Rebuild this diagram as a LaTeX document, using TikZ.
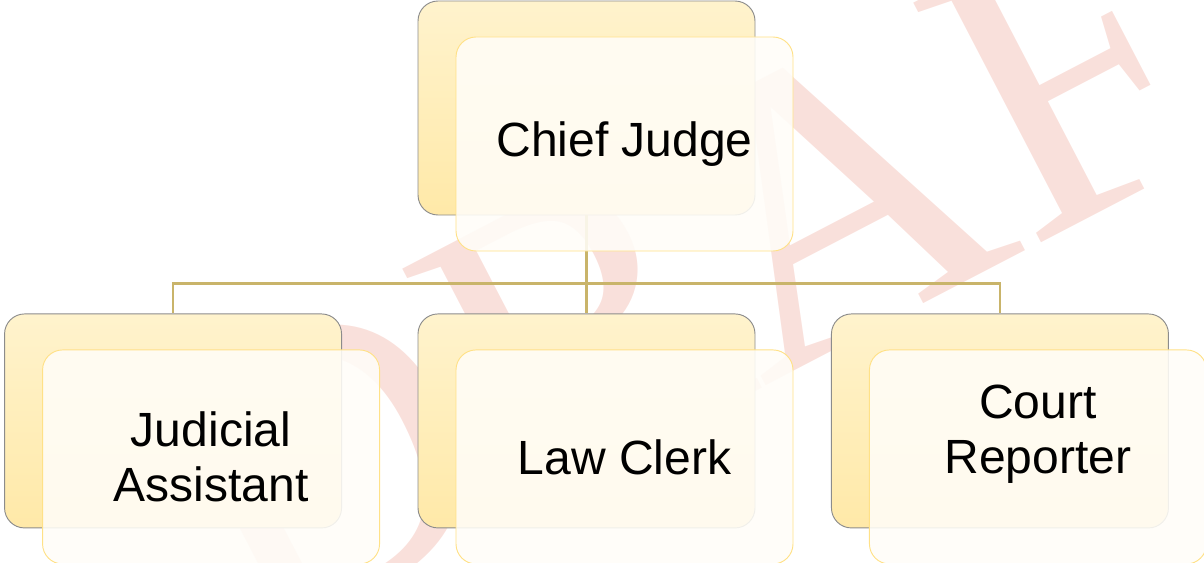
\documentclass[tikz,border=0pt]{standalone}
\usepackage{fontspec}
\setmainfont{Liberation Sans}
\newfontfamily\markfont{Liberation Serif}
\usetikzlibrary{positioning,calc}
\definecolor{backtop}{HTML}{FFF3CD}
\definecolor{backbottom}{HTML}{FFE9A8}
\definecolor{frontfill}{HTML}{FFFDF8}
\definecolor{frontline}{HTML}{FFE187}
\definecolor{linkline}{HTML}{C9B46A}
\definecolor{markpink}{RGB}{249,224,219}

\begin{document}
\begin{tikzpicture}[back/.style={rectangle, draw=gray!90, line width=0.8pt, rounded corners=0.6cm, minimum width=10.11cm, minimum height=6.42cm, top color=backtop, bottom color=backbottom, inner sep=0pt}, front/.style={rectangle, draw=frontline, line width=0.8pt, rounded corners=0.6cm, minimum width=10.11cm, minimum height=6.42cm, fill=frontfill, fill opacity=0.88, text opacity=1, align=center, font=\fontsize{41}{47}\selectfont, inner sep=0pt}, link/.style={draw=linkline, line width=2.3pt}]

\useasboundingbox (0,0) rectangle (36.12,-16.86);

% WATERMARK

\node [text=markpink, font=\markfont\fontsize{354}{354}\selectfont, rotate=27.5, anchor=base, inner sep=0pt] (draftmark) at (25.65,-10.2) {DRAFT};

% BACK BOXES

\node [back] (chiefjudgeback) at (17.595,-3.24) {};

\node [back, below=2.94cm of chiefjudgeback] (lawclerkback) {};

\node [back, left=2.265cm of lawclerkback] (judicialassistantback) {};

\node [back, right=2.265cm of lawclerkback] (courtreporterback) {};

% LINKS

\coordinate (branch) at ($(chiefjudgeback.south)+(0,-2.04)$);

\draw [link] (chiefjudgeback.south) -- (branch) -- (lawclerkback.north);
\draw [link] (judicialassistantback.north) |- (branch) -| (courtreporterback.north);

% FRONT BOXES

\node [front] (chiefjudge) at ($(chiefjudgeback)+(1.14,-1.08)$) {Chief Judge};

\node [front] (judicialassistant) at ($(judicialassistantback)+(1.14,-1.08)$) {Judicial\\Assistant};

\node [front] (lawclerk) at ($(lawclerkback)+(1.14,-1.08)$) {Law Clerk};

\node [front] (courtreporter) at ($(courtreporterback)+(1.14,-1.08)$) {Court\\Reporter\\\mbox{}};

\end{tikzpicture}
\end{document}
